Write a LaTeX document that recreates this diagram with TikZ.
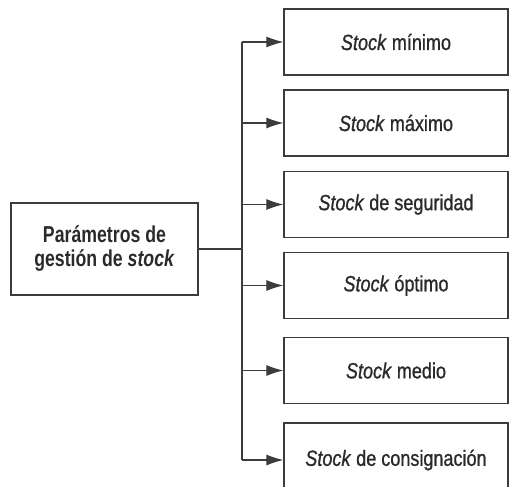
\documentclass[tikz,border=0pt]{standalone}
\usepackage{fontspec}
\setmainfont{Liberation Sans}[FakeStretch=0.82,FakeBold=1]
\newfontfamily\leftfont{Liberation Sans}[FakeStretch=0.77]
\usetikzlibrary{arrows.meta}
\definecolor{ink}{HTML}{2A2A2A}
\definecolor{linec}{HTML}{3C3C3C}
\tikzset{
  itembox/.style={draw=linec, line width=1.3pt, minimum width=224pt, minimum height=66pt, inner sep=0pt, text=ink, font=\fontsize{22}{24}\selectfont},
  mainbox/.style={draw=linec, line width=1.3pt, minimum width=187pt, minimum height=92pt, inner sep=0pt, text=ink, align=center, font=\leftfont\bfseries\fontsize{23}{24}\selectfont},
  conn/.style={draw=linec, line width=1.1pt},
  arr/.style={conn, -{Latex[length=17pt,width=11pt]}}
}
\begin{document}
\begin{tikzpicture}[x=1pt,y=-1pt]
\useasboundingbox (0,0) rectangle (509,487);
\clip (0,0) rectangle (509,487);
\node[mainbox] (M) at (104.5,249) {Parámetros de\\gestión de \textit{stock}};
\node[itembox] (B1) at (396,42) {\textit{Stock} mínimo};
\node[itembox] (B2) at (396,123) {\textit{Stock} máximo};
\node[itembox] (B3) at (396,204.5) {\textit{Stock} de seguridad};
\node[itembox] (B4) at (396,285.5) {\textit{Stock} óptimo};
\node[itembox] (B5) at (396,370.5) {\textit{Stock} medio};
\node[itembox, minimum height=74pt] (B6) at (396,460) {\textit{Stock} de consignación};
\coordinate (J) at (242,249);
\draw[conn] (M.east) -- (J);
\draw[conn] (J |- B1.west) -- (J |- B6.west);
\foreach \b in {B1,B2,B3,B4,B5,B6} {
  \draw[arr] (J |- \b.west) -- (\b.west);
}
\end{tikzpicture}
\end{document}
